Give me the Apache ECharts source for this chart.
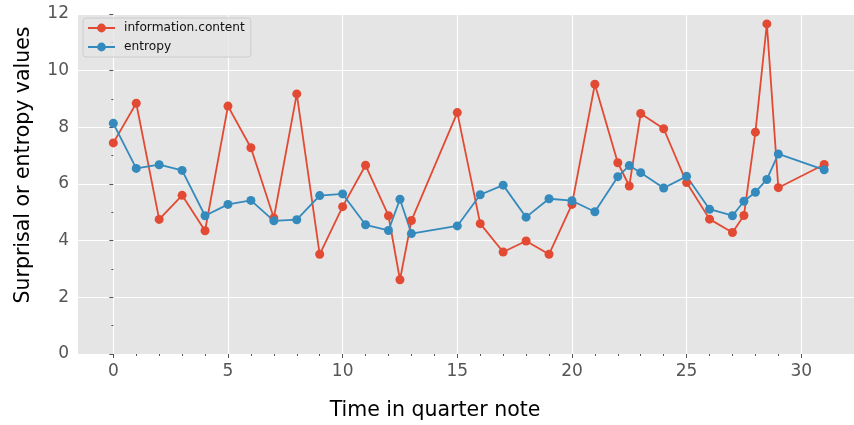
<!DOCTYPE html>
<html>
<head>
<meta charset="utf-8">
<script src="https://cdn.jsdelivr.net/npm/echarts@6/dist/echarts.min.js"></script>
<style>
html,body{margin:0;padding:0;background:#fff;}
#chart{width:854px;height:425px;}
</style>
</head>
<body>
<div id="chart"></div>
<script>
// ---- data ----
var times = [0, 1, 2, 3, 4, 5, 6, 7, 8, 9, 10, 11, 12, 12.5, 13, 15, 16, 17, 18, 19, 20, 21, 22, 22.5, 23, 24, 25, 26, 27, 27.5, 28, 28.5, 29, 31];
var informationContent = [7.45, 8.85, 4.75, 5.6, 4.35, 8.75, 7.28, 4.8, 9.18, 3.52, 5.2, 6.66, 4.88, 2.62, 4.71, 8.52, 4.6, 3.6, 3.99, 3.52, 5.28, 9.52, 6.75, 5.93, 8.49, 7.95, 6.05, 4.76, 4.29, 4.89, 7.83, 11.65, 5.87, 6.69];
var entropy = [8.14, 6.55, 6.68, 6.48, 4.88, 5.28, 5.42, 4.7, 4.74, 5.59, 5.65, 4.56, 4.36, 5.46, 4.25, 4.52, 5.62, 5.96, 4.83, 5.48, 5.41, 5.02, 6.26, 6.65, 6.4, 5.86, 6.27, 5.11, 4.88, 5.39, 5.71, 6.16, 7.06, 6.5];
var xMajorTicks = [0, 5, 10, 15, 20, 25, 30];
var xMinorTicks = [1, 2, 3, 4, 6, 7, 8, 9, 11, 12, 13, 14, 16, 17, 18, 19, 21, 22, 23, 24, 26, 27, 28, 29];
var seriesNames = ['information.content', 'entropy'];
var xTitle = 'Time in quarter note';
var yTitle = 'Surprisal or entropy values';

function pairs(xs, ys) {
  return xs.map(function (x, i) { return [x, ys[i]]; });
}

var FONT = 'DejaVu Sans';
var chart = echarts.init(document.getElementById('chart'), null, {renderer: 'canvas'});
chart.setOption({
  animation: false,
  backgroundColor: '#ffffff',
  textStyle: {fontFamily: FONT},
  grid: {
    left: 78, right: 0, top: 14, bottom: 71,
    show: true, backgroundColor: '#E5E5E5', borderWidth: 0,
    containLabel: false
  },
  graphic: [{
    type: 'text',
    x: 435, y: 411,
    style: {text: xTitle, font: '20.5px "DejaVu Sans"', fill: '#000000', textAlign: 'center', textVerticalAlign: 'middle'}
  }, {
    type: 'text',
    x: 24, y: 165,
    rotation: Math.PI / 2,
    style: {text: yTitle, font: '20.5px "DejaVu Sans"', fill: '#000000', textAlign: 'center', textVerticalAlign: 'middle'}
  }],
  legend: {
    data: seriesNames,
    orient: 'vertical',
    left: 83, top: 18,
    itemWidth: 27, itemHeight: 11, itemGap: 7,
    padding: [4, 6, 4, 4],
    backgroundColor: 'rgba(229,229,229,0.8)',
    borderColor: '#cccccc', borderWidth: 1, borderRadius: 3,
    textStyle: {fontFamily: FONT, fontSize: 12.2, color: '#111111', padding: [0, 0, 0, 4]}
  },
  xAxis: [{
    type: 'value',
    min: -1.54, max: 32.3,
    axisLine: {show: false},
    axisTick: {show: true, length: 4, lineStyle: {color: '#555555', width: 1}, customValues: xMajorTicks},
    axisLabel: {show: true, margin: 9, fontFamily: FONT, fontSize: 17, color: '#555555', customValues: xMajorTicks},
    splitLine: {show: true, lineStyle: {color: '#ffffff', width: 1.2}}
  }, {
    type: 'value',
    min: -1.54, max: 32.3,
    position: 'bottom',
    axisLine: {show: false},
    axisTick: {show: true, length: 2, lineStyle: {color: '#555555', width: 1}, customValues: xMinorTicks},
    axisLabel: {show: false},
    splitLine: {show: false}
  }],
  yAxis: {
    type: 'value',
    min: 0, max: 12, interval: 2,
    axisLine: {show: false},
    axisTick: {show: true, length: 4, lineStyle: {color: '#555555', width: 1}},
    minorTick: {show: true, splitNumber: 2, length: 2, lineStyle: {color: '#555555', width: 1}},
    axisLabel: {margin: 9, fontFamily: FONT, fontSize: 17, color: '#555555'},
    splitLine: {show: true, lineStyle: {color: '#ffffff', width: 1.2}}
  },
  series: [{
    name: seriesNames[0],
    type: 'line',
    xAxisIndex: 0,
    data: pairs(times, informationContent),
    symbol: 'circle', symbolSize: 9, showSymbol: true,
    lineStyle: {color: '#E24A33', width: 1.8},
    itemStyle: {color: '#E24A33'},
    emphasis: {disabled: true}
  }, {
    name: seriesNames[1],
    type: 'line',
    xAxisIndex: 0,
    data: pairs(times, entropy),
    symbol: 'circle', symbolSize: 9, showSymbol: true,
    lineStyle: {color: '#348ABD', width: 1.8},
    itemStyle: {color: '#348ABD'},
    emphasis: {disabled: true}
  }]
});
</script>
</body>
</html>
